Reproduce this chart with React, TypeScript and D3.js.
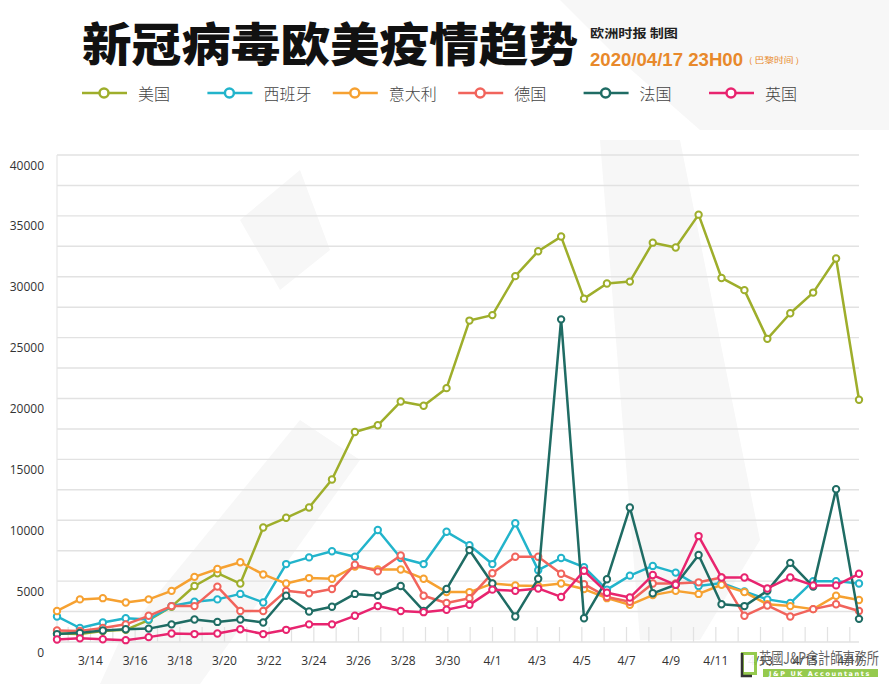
import React from 'react';
import * as d3 from 'd3';

// Chart frame
const W = 889;
const H = 684;
const plot = { left: 57, right: 859, top: 155, bottom: 642 };

// Dates on the x axis (3/13 .. 4/17)
const dates = [
  '3/13', '3/14', '3/15', '3/16', '3/17', '3/18', '3/19', '3/20', '3/21', '3/22', '3/23', '3/24',
  '3/25', '3/26', '3/27', '3/28', '3/29', '3/30', '3/31', '4/1', '4/2', '4/3', '4/4', '4/5',
  '4/6', '4/7', '4/8', '4/9', '4/10', '4/11', '4/12', '4/13', '4/14', '4/15', '4/16', '4/17',
];

// Daily new cases
const usValues = [
  700, 650, 900, 1000, 1800, 2900, 4600, 5650, 4800, 9400, 10200, 11050,
  13350, 17250, 17800, 19750, 19400, 20850, 26400, 26850, 30050, 32100, 33300, 28200,
  29450, 29600, 32800, 32400, 35100, 29900, 28900, 24900, 27000, 28700, 31500, 19900,
];
const spainValues = [
  2100, 1150, 1600, 1950, 1850, 2950, 3300, 3500, 3950, 3250, 6400, 6950,
  7450, 7000, 9200, 6900, 6400, 9050, 7950, 6400, 9750, 5900, 6900, 6150,
  4300, 5450, 6250, 5700, 4600, 4850, 4150, 3500, 3200, 5000, 5000, 4800,
];
const italyValues = [
  2550, 3500, 3600, 3250, 3500, 4200, 5350, 6000, 6550, 5550, 4800, 5250,
  5200, 6200, 5950, 5950, 5200, 4100, 4100, 4800, 4650, 4600, 4800, 4350,
  3600, 3050, 3850, 4200, 3950, 4700, 4100, 3100, 2950, 2700, 3800, 3450,
];
const germanyValues = [
  950, 900, 1150, 1450, 2150, 2950, 2950, 4550, 2550, 2550, 4200, 4000,
  4350, 6350, 5800, 7100, 3800, 3200, 3600, 5650, 7000, 7000, 5600, 4750,
  3700, 3300, 4800, 4800, 4900, 5300, 2150, 3000, 2100, 2700, 3100, 2550,
];
const franceValues = [
  650, 750, 950, 1050, 1100, 1450, 1850, 1650, 1850, 1600, 3800, 2500,
  2900, 3950, 3800, 4600, 2550, 4350, 7550, 4800, 2100, 5200, 26500, 1950,
  5150, 11050, 4000, 4700, 7150, 3100, 2950, 4200, 6500, 4550, 12550, 1900,
];
const ukValues = [
  200, 300, 230, 150, 400, 700, 650, 700, 1050, 650, 1000, 1450,
  1450, 2150, 2950, 2550, 2450, 2650, 3050, 4300, 4200, 4400, 3700, 5850,
  4050, 3650, 5500, 4700, 8700, 5300, 5300, 4400, 5300, 4650, 4650, 5600,
];

const seriesNames = ['美国', '西班牙', '意大利', '德国', '法国', '英国'];
const seriesColors = ['#9eae2b', '#22b4cb', '#f6a131', '#f1645c', '#1f6c64', '#e8246f'];
const seriesValues = [usValues, spainValues, italyValues, germanyValues, franceValues, ukValues];

const yGridValues = d3.range(0, 40001, 2500);
const yLabelValues = d3.range(0, 40001, 5000);

const x = d3.scalePoint().domain(dates).range([plot.left, plot.right]);
// tick labels sit on a band axis, slightly off the points (as in the source)
const xBand = d3.scaleBand().domain(dates).range([plot.left, plot.right + 2]);
const y = d3.scaleLinear().domain([0, 40000]).range([plot.bottom, plot.top]);

const line = d3.line<number>()
  .x((d, i) => x(dates[i]) as number)
  .y((d) => y(d));

const numFont = '"Open Sans", "Noto Sans", sans-serif';
const cjkFont = '"Noto Sans CJK SC", "Noto Sans", sans-serif';

export default function App() {
  const bandCenter = (d: string) => (xBand(d) as number) + xBand.bandwidth() / 2;

  return (
    <svg width={W} height={H} style={{ position: 'fixed', left: 0, top: 0, background: '#fff' }}>
      {/* faint background watermark */}
      <g fill="#f7f7f7">
        <polygon points="560,0 889,0 889,130 700,130 620,60" />
        <polygon points="240,220 300,170 330,250 280,290" />
        <polygon points="600,140 680,140 760,540 700,640 640,640" />
        <polygon points="120,640 300,420 360,460 200,684 100,684" />
      </g>

      {/* header */}
      <text x={82} y={61} fontFamily={cjkFont} fontWeight={900} fontSize={46}
        textLength={496} lengthAdjust="spacingAndGlyphs" fill="#111">新冠病毒欧美疫情趋势</text>
      <text x={590} y={38} fontFamily={cjkFont} fontWeight={700} fontSize={12}
        textLength={88} lengthAdjust="spacingAndGlyphs" fill="#222">欧洲时报 制图</text>
      <text x={590} y={66} fontFamily='"Liberation Sans", Arial, sans-serif' fontWeight={700} fontSize={18}
        textLength={153} lengthAdjust="spacingAndGlyphs" fill="#e8892b">2020/04/17 23H00</text>
      <text x={749} y={63} fontFamily={cjkFont} fontSize={8} fill="#e8892b"
        textLength={50} lengthAdjust="spacingAndGlyphs">( 巴黎时间 )</text>

      {/* legend */}
      {seriesNames.map((name, i) => {
        const lx = 82 + i * 125.4;
        return (
          <g key={name}>
            <line x1={lx} x2={lx + 45} y1={93} y2={93} stroke={seriesColors[i]} strokeWidth={2.5} />
            <circle cx={lx + 22} cy={93} r={4.5} fill="#fff" stroke={seriesColors[i]} strokeWidth={2.5} />
            <text x={lx + 56} y={93} dominantBaseline="central" fontFamily={cjkFont} fontWeight={300}
              fontSize={16} fill="#444">{name}</text>
          </g>
        );
      })}

      {/* grid */}
      {yGridValues.map((v) => (
        <line key={v} x1={plot.left} x2={plot.right} y1={y(v)} y2={y(v)} stroke="#e2e2e2" strokeWidth={1.4} />
      ))}
      <line x1={plot.left} x2={plot.left} y1={plot.top} y2={plot.bottom} stroke="#e6e6e6" strokeWidth={1.2} />
      {yLabelValues.map((v) => (
        <text key={v} x={44} y={y(v) + 10} textAnchor="end" dominantBaseline="central"
          fontFamily={numFont} fontSize={12} fill="#333">{v}</text>
      ))}

      {/* x ticks and labels */}
      {dates.map((d) => (
        <line key={d} x1={bandCenter(d)} x2={bandCenter(d)} y1={plot.bottom - 15} y2={plot.bottom}
          stroke="#e2e2e2" strokeWidth={1.2} />
      ))}
      {dates.filter((d, i) => i % 2 === 1).map((d) => (
        <text key={d} x={bandCenter(d)} y={660} textAnchor="middle" dominantBaseline="central"
          fontFamily={numFont} fontSize={12} fill="#333">{d}</text>
      ))}

      {/* series */}
      {seriesValues.map((vals, s) => (
        <g key={seriesNames[s]}>
          <path d={line(vals) as string} fill="none" stroke={seriesColors[s]} strokeWidth={2.5}
            strokeLinejoin="round" />
          {vals.map((v, i) => (
            <circle key={i} cx={x(dates[i]) as number} cy={y(v)} r={3.2} fill="#fff"
              stroke={seriesColors[s]} strokeWidth={2} />
          ))}
        </g>
      ))}

      {/* logo */}
      <g opacity={0.92}>
        <rect x={741} y={652} width={16} height={23} fill="#8dc63f" />
        <rect x={744} y={655} width={10} height={17} fill="#fff" />
        <polyline points="742,653 742,676 752,676" fill="none" stroke="#222" strokeWidth={2.5} />
        <text x={759} y={664} fontFamily={cjkFont} fontSize={16} fill="#555"
          textLength={120} lengthAdjust="spacingAndGlyphs">英國J&amp;P會計師事務所</text>
        <rect x={763} y={669} width={115} height={8} fill="#8dc63f" />
        <text x={820} y={673.5} textAnchor="middle" dominantBaseline="central" fontFamily='"DejaVu Sans", sans-serif'
          fontWeight={700} fontSize={6.5} letterSpacing={1.6} fill="#fff">J&amp;P UK Accountants</text>
      </g>
    </svg>
  );
}
